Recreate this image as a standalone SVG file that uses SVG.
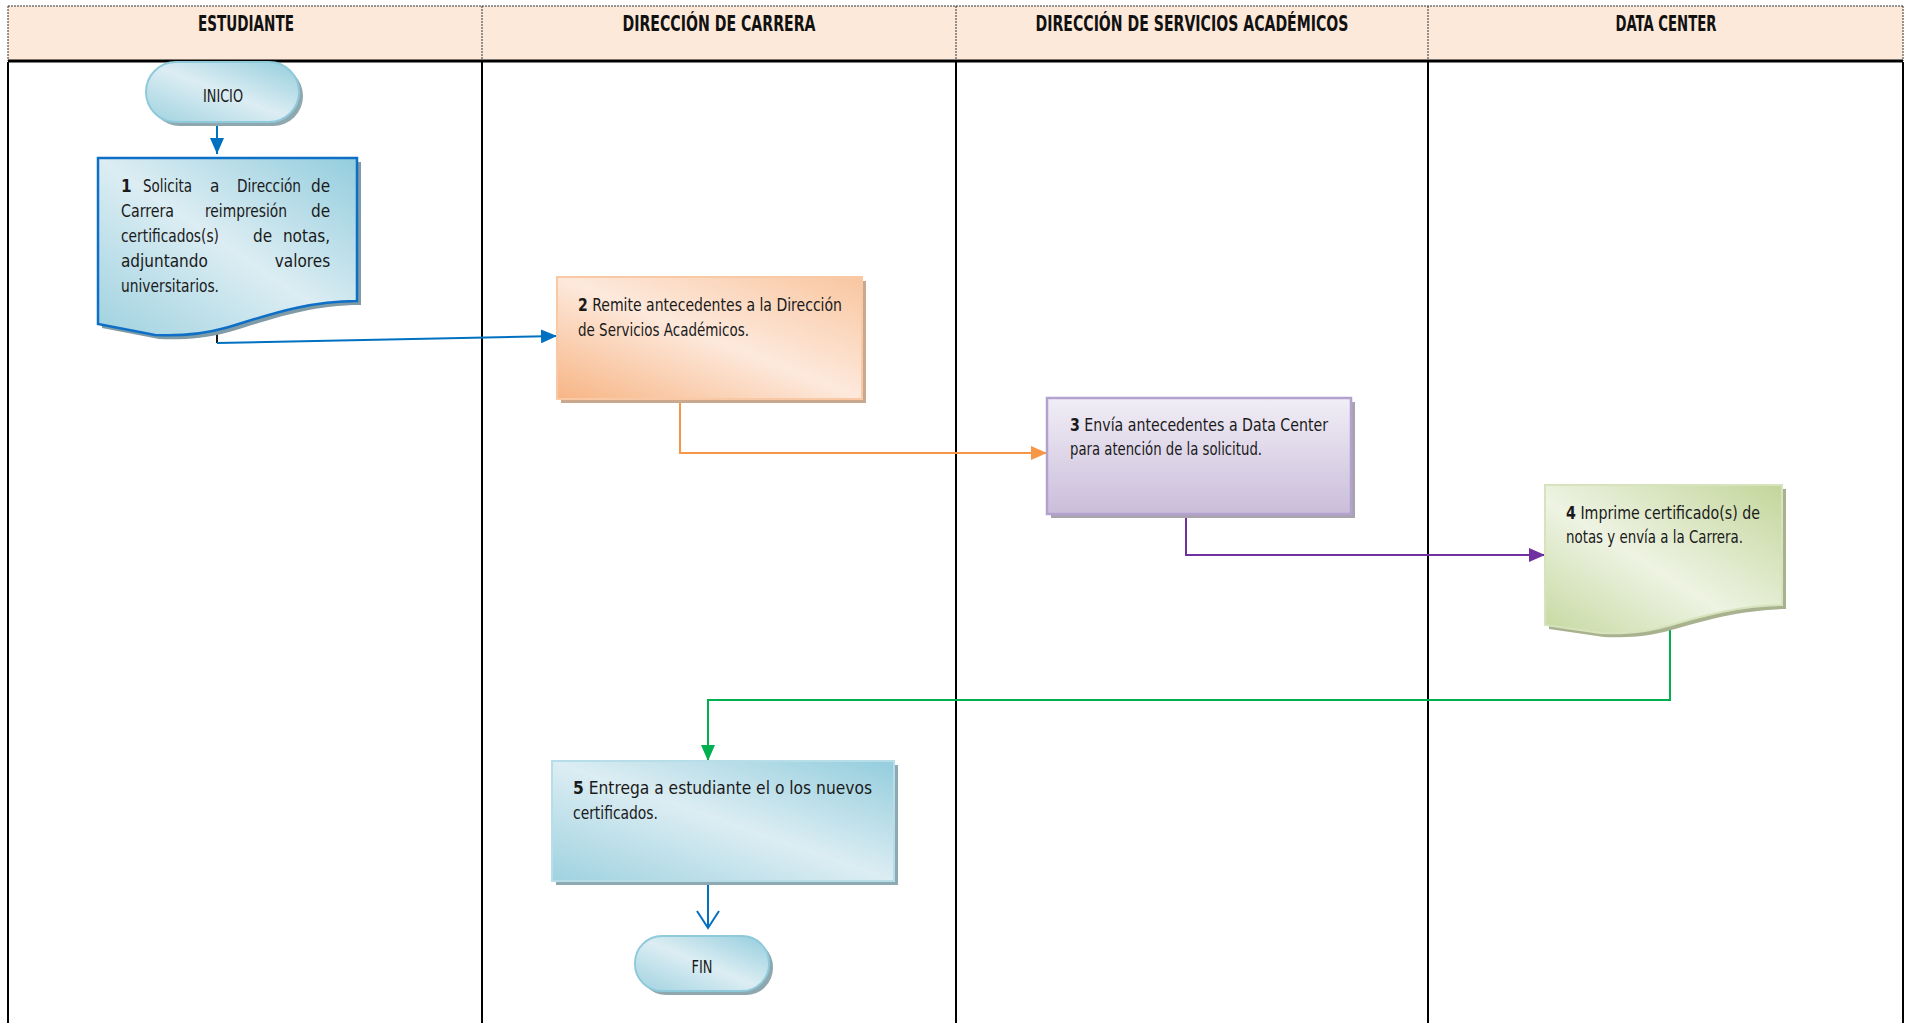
<svg xmlns="http://www.w3.org/2000/svg" width="1910" height="1023" viewBox="0 0 1910 1023">
  <defs>
    <style>
      .hdr { font-family: "Liberation Sans Narrow", "DejaVu Sans Condensed", "Liberation Sans", sans-serif; font-weight: bold; font-size: 21px; fill: #111; }
      .txt { font-family: "Liberation Sans Narrow", "DejaVu Sans Condensed", "Liberation Sans", sans-serif; font-size: 17px; fill: #1a1a1a; }
      .num { font-weight: bold; }
      .lane { stroke: #000; stroke-width: 2; fill: none; }
      .dash { stroke: #333; stroke-width: 1; stroke-dasharray: 2 1; fill: none; }
      .conn { fill: none; stroke-width: 2; }
    </style>
    <linearGradient id="gBlue" x1="1" y1="0" x2="0" y2="1">
      <stop offset="0" stop-color="#93cddd"/>
      <stop offset="0.5" stop-color="#dcedf3"/>
      <stop offset="1" stop-color="#9fd2e0"/>
    </linearGradient>
    <linearGradient id="gOrange" x1="1" y1="0" x2="0" y2="1">
      <stop offset="0" stop-color="#f9c6a0"/>
      <stop offset="0.5" stop-color="#fde9dc"/>
      <stop offset="1" stop-color="#f7b585"/>
    </linearGradient>
    <linearGradient id="gPurple" x1="0" y1="0" x2="0" y2="1">
      <stop offset="0" stop-color="#f1eef6"/>
      <stop offset="1" stop-color="#cabdda"/>
    </linearGradient>
    <linearGradient id="gGreen" x1="1" y1="0" x2="0" y2="1">
      <stop offset="0" stop-color="#c3d69b"/>
      <stop offset="0.55" stop-color="#eef3e3"/>
      <stop offset="1" stop-color="#c6d9a1"/>
    </linearGradient>
    <marker id="aBlue" viewBox="0 0 16 14" refX="16" refY="7" markerWidth="16" markerHeight="14" markerUnits="userSpaceOnUse" orient="auto">
      <path d="M0,0 L16,7 L0,14 Z" fill="#0070c0"/>
    </marker>
    <marker id="aOrange" viewBox="0 0 16 14" refX="16" refY="7" markerWidth="16" markerHeight="14" markerUnits="userSpaceOnUse" orient="auto">
      <path d="M0,0 L16,7 L0,14 Z" fill="#f79646"/>
    </marker>
    <marker id="aPurple" viewBox="0 0 16 14" refX="16" refY="7" markerWidth="16" markerHeight="14" markerUnits="userSpaceOnUse" orient="auto">
      <path d="M0,0 L16,7 L0,14 Z" fill="#7030a0"/>
    </marker>
    <marker id="aGreen" viewBox="0 0 16 14" refX="16" refY="7" markerWidth="16" markerHeight="14" markerUnits="userSpaceOnUse" orient="auto">
      <path d="M0,0 L16,7 L0,14 Z" fill="#00b050"/>
    </marker>
  </defs>

  <rect width="1910" height="1023" fill="#fff"/>

  <!-- swimlane header -->
  <g id="header">
    <rect x="8" y="6" width="1895" height="55" fill="#fde9d9"/>
    <path class="dash" d="M8,6 H1903 M8,6 V61 M482,6 V61 M956,6 V61 M1428,6 V61 M1903,6 V61"/>
    <line x1="8" y1="61" x2="1903" y2="61" stroke="#000" stroke-width="3"/>
    <text class="hdr" x="246" y="31" text-anchor="middle" textLength="96" lengthAdjust="spacingAndGlyphs">ESTUDIANTE</text>
    <text class="hdr" x="719" y="31" text-anchor="middle" textLength="193" lengthAdjust="spacingAndGlyphs">DIRECCIÓN DE CARRERA</text>
    <text class="hdr" x="1192" y="31" text-anchor="middle" textLength="313" lengthAdjust="spacingAndGlyphs">DIRECCIÓN DE SERVICIOS ACADÉMICOS</text>
    <text class="hdr" x="1666" y="31" text-anchor="middle" textLength="101" lengthAdjust="spacingAndGlyphs">DATA CENTER</text>
  </g>

  <!-- lane separators -->
  <g id="lanes">
    <path class="lane" d="M8,62 V1023 M482,62 V1023 M956,62 V1023 M1428,62 V1023 M1903,62 V1023"/>
  </g>

  <!-- connectors -->
  <g id="connectors">
    <path class="conn" stroke="#0070c0" stroke-width="3" d="M217,122 V154" marker-end="url(#aBlue)"/>
    <path class="conn" stroke="#1a1a1a" stroke-width="1.5" d="M217,330 V343"/>
    <path class="conn" stroke="#0070c0" d="M217,343 L557,336" marker-end="url(#aBlue)"/>
    <path class="conn" stroke="#f79646" d="M680,401 V453 H1047" marker-end="url(#aOrange)"/>
    <path class="conn" stroke="#7030a0" d="M1186,516 V555 H1545" marker-end="url(#aPurple)"/>
    <path class="conn" stroke="#00b050" d="M1670,627 V700 H708 V761" marker-end="url(#aGreen)"/>
    <path class="conn" stroke="#0070c0" stroke-width="3" d="M708,882 V927"/>
    <path class="conn" stroke="#0070c0" stroke-width="2.5" d="M697,911 L708,928 L719,911"/>
  </g>

  <!-- start terminator -->
  <g id="inicio">
    <rect x="150" y="66" width="153" height="60" rx="30" fill="#8fa7ae"/>
    <rect x="146" y="62" width="153" height="60" rx="30" fill="url(#gBlue)" stroke="#8fcadb" stroke-width="2"/>
    <text class="txt" x="223" y="102" text-anchor="middle" textLength="40" lengthAdjust="spacingAndGlyphs">INICIO</text>
  </g>

  <!-- step 1: document -->
  <g id="step1">
    <path d="M102,162 H361 V305 C304,305 259,324 229,332 C204,339 179,340 159,339 L102,328 Z" fill="#7f9ba5"/>
    <path d="M98,158 H357 V301 C300,301 255,320 225,328 C200,335 175,336 155,335 L98,324 Z" fill="url(#gBlue)" stroke="#0f6fc6" stroke-width="2.5"/>
    <text class="txt">
      <tspan x="121" y="192" class="num">1</tspan><tspan x="143" y="192" textLength="49" lengthAdjust="spacingAndGlyphs">Solicita</tspan><tspan x="210" y="192">a</tspan><tspan x="237" y="192" textLength="64" lengthAdjust="spacingAndGlyphs">Dirección</tspan><tspan x="335" y="192" text-anchor="end">de</tspan>
      <tspan x="121" y="217" textLength="53" lengthAdjust="spacingAndGlyphs">Carrera</tspan><tspan x="205" y="217" textLength="82" lengthAdjust="spacingAndGlyphs">reimpresión</tspan><tspan x="335" y="217" text-anchor="end">de</tspan>
      <tspan x="121" y="242" textLength="98" lengthAdjust="spacingAndGlyphs">certificados(s)</tspan><tspan x="253" y="242">de</tspan><tspan x="335" y="242" text-anchor="end">notas,</tspan>
      <tspan x="121" y="267">adjuntando</tspan><tspan x="335" y="267" text-anchor="end">valores</tspan>
      <tspan x="121" y="292" textLength="98" lengthAdjust="spacingAndGlyphs">universitarios.</tspan>
    </text>
  </g>

  <!-- step 2 -->
  <g id="step2">
    <rect x="561" y="281" width="305" height="122" fill="#c9a88d"/>
    <rect x="557" y="277" width="305" height="122" fill="url(#gOrange)" stroke="#f8c9a4" stroke-width="2"/>
    <text class="txt" x="578" y="311" textLength="264" lengthAdjust="spacingAndGlyphs"><tspan class="num">2</tspan> Remite antecedentes a la Dirección</text>
    <text class="txt" x="578" y="336" textLength="171" lengthAdjust="spacingAndGlyphs">de Servicios Académicos.</text>
  </g>

  <!-- step 3 -->
  <g id="step3">
    <rect x="1051" y="402" width="304" height="116" fill="#a9a3b0"/>
    <rect x="1047" y="398" width="304" height="116" fill="url(#gPurple)" stroke="#b3a2cf" stroke-width="2.5"/>
    <text class="txt" x="1070" y="431" textLength="258" lengthAdjust="spacingAndGlyphs"><tspan class="num">3</tspan> Envía antecedentes a Data Center</text>
    <text class="txt" x="1070" y="455" textLength="192" lengthAdjust="spacingAndGlyphs">para atención de la solicitud.</text>
  </g>

  <!-- step 4: document -->
  <g id="step4">
    <path d="M1549,489 H1786 V609 C1734,610 1694,624 1664,632 C1644,637 1619,638 1604,637 L1549,629 Z" fill="#a9b28f"/>
    <path d="M1545,485 H1782 V605 C1730,606 1690,620 1660,628 C1640,633 1615,634 1600,633 L1545,625 Z" fill="url(#gGreen)" stroke="#d6e3bc" stroke-width="2"/>
    <text class="txt" x="1566" y="519" textLength="194" lengthAdjust="spacingAndGlyphs"><tspan class="num">4</tspan> Imprime certificado(s) de</text>
    <text class="txt" x="1566" y="543" textLength="177" lengthAdjust="spacingAndGlyphs">notas y envía a la Carrera.</text>
  </g>

  <!-- step 5 -->
  <g id="step5">
    <rect x="556" y="765" width="342" height="120" fill="#8fa9b2"/>
    <rect x="552" y="761" width="342" height="120" fill="url(#gBlue)" stroke="#b6dde8" stroke-width="2"/>
    <text class="txt" x="573" y="794" textLength="299" lengthAdjust="spacingAndGlyphs"><tspan class="num">5</tspan> Entrega a estudiante el o los nuevos</text>
    <text class="txt" x="573" y="819" textLength="85" lengthAdjust="spacingAndGlyphs">certificados.</text>
  </g>

  <!-- end terminator -->
  <g id="fin">
    <rect x="639" y="940" width="134" height="55" rx="27" fill="#8fa7ae"/>
    <rect x="635" y="936" width="134" height="55" rx="27" fill="url(#gBlue)" stroke="#8fcadb" stroke-width="2"/>
    <text class="txt" x="702" y="973" text-anchor="middle" textLength="21" lengthAdjust="spacingAndGlyphs">FIN</text>
  </g>
</svg>
